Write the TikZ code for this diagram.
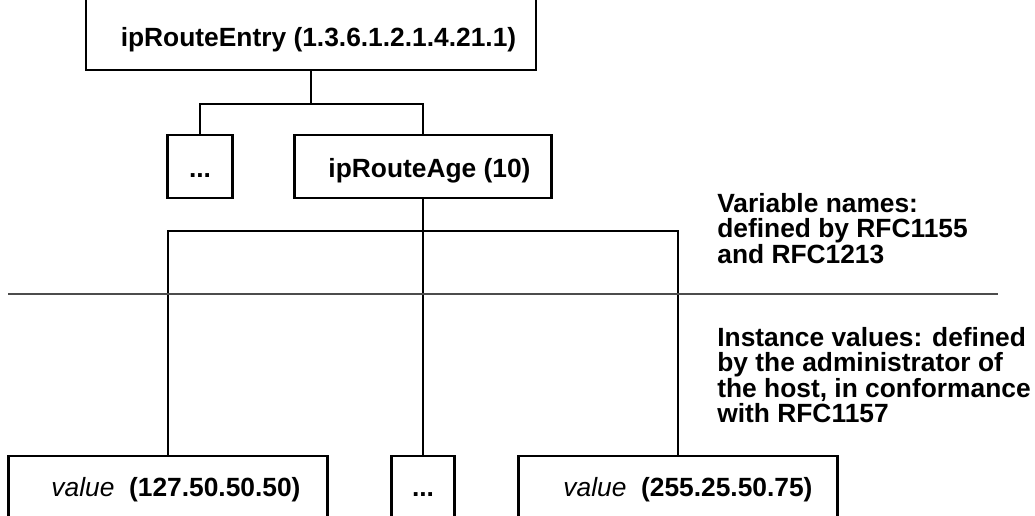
\documentclass[tikz,border=0pt]{standalone}
\usepackage{fontspec}
\setmainfont{Liberation Sans}

\tikzset{
  box/.style={draw, line width=1.2pt, inner sep=0pt, font=\fontsize{15}{14.5}\selectfont\bfseries},
  note/.style={anchor=north west, inner sep=0pt, align=left, font=\fontsize{15}{14.5}\selectfont\bfseries},
  link/.style={line width=1.2pt}
}

\begin{document}
\begin{tikzpicture}[x=0.02cm, y=-0.02cm]
\useasboundingbox (0,0) rectangle (1035,516);
\clip (0,0) rectangle (1035,516);
% variable names
\node[box, anchor=base, minimum width=9cm, text height=1.14cm, text depth=0.46cm] (entry) at (311,47) {\hspace*{0.3cm}ipRouteEntry (1.3.6.1.2.1.4.21.1)};
\node[box, anchor=base, minimum width=1.3cm, text height=0.86cm, text depth=0.4cm] (dotsa) at (200,178) {...};
\node[box, anchor=base, minimum width=5.14cm, text height=0.86cm, text depth=0.4cm] (age) at (423,178) {\hspace*{0.26cm}ipRouteAge (10)};
% instance values
\node[box, anchor=base, minimum width=6.38cm, text height=0.82cm, text depth=0.8cm] (vala) at (168,497) {\hspace*{0.32cm}\textit{\mdseries value}\ \ (127.50.50.50)};
\node[box, anchor=base, minimum width=1.26cm, text height=0.82cm, text depth=0.8cm] (dotsb) at (423,497) {...};
\node[box, anchor=base, minimum width=6.38cm, text height=0.82cm, text depth=0.8cm] (valb) at (678,497) {\hspace*{0.4cm}\textit{\mdseries value}\ \ (255.25.50.75)};
\draw[link] (entry.south) -- ++(0,33) -| (dotsa.north);
\draw[link] (entry.south) -- ++(0,33) -| (age.north);
\draw[link] (age.south) -- ++(0,32) -| (vala.north);
\draw[link] (age.south) -- (dotsb.north);
\draw[link] (age.south) -- ++(0,32) -| (valb.north);
\draw[gray!60!black, line width=0.8pt] (8,294) -- (998,294);
\node[note] (names) at (717,193) {Variable names:\\defined by RFC1155\\and RFC1213};
\node[note] (inst) at (717,327) {Instance values: defined\\by the administrator of\\the host, in conformance\\with RFC1157};
\end{tikzpicture}
\end{document}
